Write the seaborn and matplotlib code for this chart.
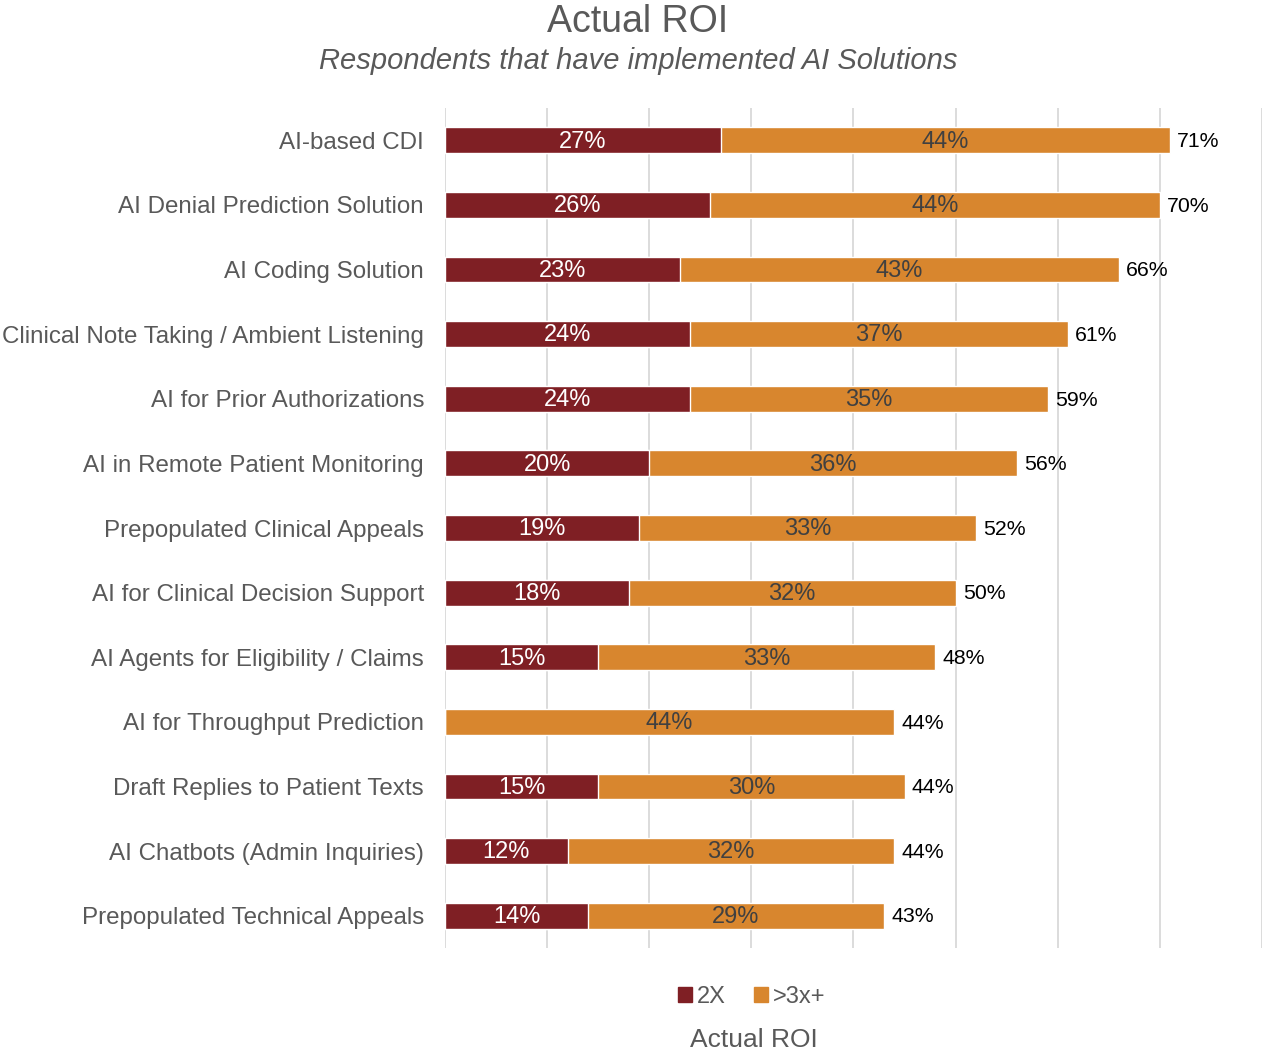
import numpy as np
import pandas as pd
import matplotlib.pyplot as plt
import seaborn as sns

# data
categories = ['AI-based CDI', 'AI Denial Prediction Solution', 'AI Coding Solution',
              'Clinical Note Taking / Ambient Listening', 'AI for Prior Authorizations',
              'AI in Remote Patient Monitoring', 'Prepopulated Clinical Appeals',
              'AI for Clinical Decision Support', 'AI Agents for Eligibility / Claims',
              'AI for Throughput Prediction', 'Draft Replies to Patient Texts',
              'AI Chatbots (Admin Inquiries)', 'Prepopulated Technical Appeals']
roi_2x = [27, 26, 23, 24, 24, 20, 19, 18, 15, 0, 15, 12, 14]
roi_3x = [44, 44, 43, 37, 35, 36, 33, 32, 33, 44, 30, 32, 29]
totals = [71, 70, 66, 61, 59, 56, 52, 50, 48, 44, 44, 44, 43]

df = pd.DataFrame({'cat': categories, 'r2': roi_2x, 'r3': roi_3x, 'tot': totals})
df['stack'] = df['r2'] + df['r3']

red = '#7F1F24'
orange = '#D8862E'
gray = '#595959'

sns.set_theme(style='white')
plt.rcParams['font.family'] = ['Liberation Sans', 'DejaVu Sans']

fig = plt.figure(figsize=(12.63, 10.54), dpi=100)
ax = fig.add_axes([0.3523, 0.1006, 0.6469, 0.7969])

sns.barplot(data=df, y='cat', x='stack', color=orange, orient='h', width=0.4,
            saturation=1, ax=ax, zorder=3)
sns.barplot(data=df, y='cat', x='r2', color=red, orient='h', width=0.4,
            saturation=1, ax=ax, zorder=4)

ax.set_xlim(0, 80)
ax.set_ylim(len(categories) - 0.5, -0.5)
ax.set_xticks(np.arange(0, 81, 10))
ax.set_xticklabels([])
ax.grid(axis='x', color='#D9D9D9', linewidth=1.3, zorder=0)
ax.grid(axis='y', visible=False)
ax.tick_params(axis='both', length=0)
ax.tick_params(axis='y', labelsize=17.4, labelcolor=gray, pad=15)
ax.set_xlabel('')
ax.set_ylabel('')
sns.despine(ax=ax, left=True, bottom=True)

for i in range(len(categories)):
    if df['r2'][i] > 0:
        ax.text(df['r2'][i] / 2, i + 0.02, f"{df['r2'][i]}%", ha='center', va='center',
                color='white', fontsize=17, zorder=5)
    ax.text(df['r2'][i] + df['r3'][i] / 2, i + 0.02, f"{df['r3'][i]}%", ha='center',
            va='center', color='#404040', fontsize=17, zorder=5)
    ax.text(df['stack'][i] + 0.7, i + 0.02, f"{df['tot'][i]}%", ha='left', va='center',
            color='black', fontsize=15.3, zorder=5)

fig.text(0.505, 0.979, 'Actual ROI', ha='center', va='center', fontsize=27, color=gray)
fig.text(0.505, 0.942, 'Respondents that have implemented AI Solutions', ha='center',
         va='center', fontsize=21, color=gray, style='italic')

handles = [plt.Rectangle((0, 0), 1, 1, color=red), plt.Rectangle((0, 0), 1, 1, color=orange)]
fig.legend(handles, ['2X', '>3x+'], loc='center', bbox_to_anchor=(0.595, 0.054), ncol=2,
           frameon=False, fontsize=17, labelcolor=gray, handlelength=0.6, handleheight=0.6,
           handletextpad=0.2, columnspacing=1.2)
fig.text(0.597, 0.013, 'Actual ROI', ha='center', va='center', fontsize=19, color=gray)

plt.savefig('out.png', dpi=100)
